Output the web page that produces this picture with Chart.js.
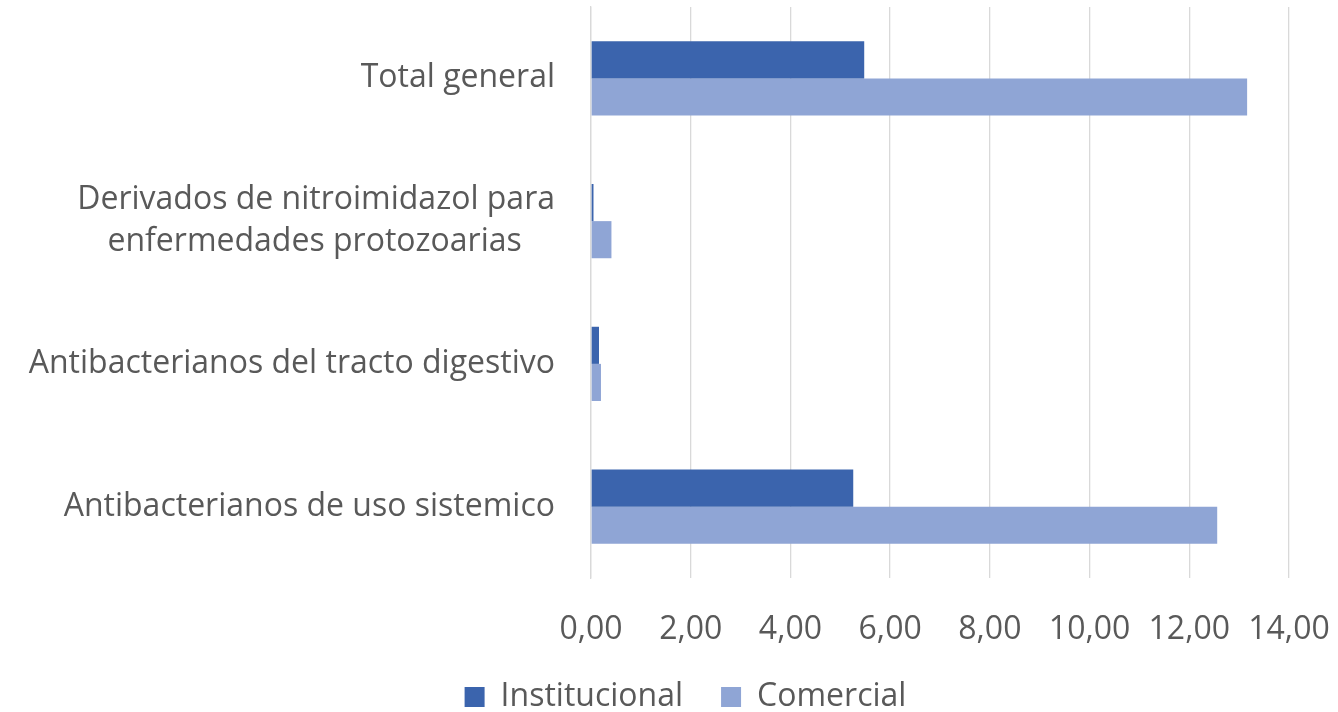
<!DOCTYPE html>
<html>
<head>
<meta charset="utf-8">
<script src="https://cdn.jsdelivr.net/npm/chart.js@4.4.0/dist/chart.umd.min.js"></script>
<style>
  html, body { margin: 0; padding: 0; background: #fff; }
  #wrap { width: 1338px; height: 712px; }
</style>
</head>
<body>
<div id="wrap"><canvas id="barChart" width="1338" height="712"></canvas></div>
<script>
// categorias y valores
const categories = [
  'Total general',
  ['Derivados de nitroimidazol para', 'enfermedades protozoarias    '],
  'Antibacterianos del tracto digestivo',
  'Antibacterianos de uso sistemico',
];
const institucional = [5.48, 0.05, 0.16, 5.26];
const comercial = [13.16, 0.41, 0.2, 12.56];
const xTicks = [0, 2, 4, 6, 8, 10, 12, 14];

const FONT = 'Open Sans';
const GREY = '#595959';

// la leyenda va centrada algo a la derecha, como en el original
const shiftLegend = {
  id: 'shiftLegend',
  afterLayout(chart) {
    if (!chart.legend) return;
    chart.legend.left += 41;
    chart.legend.right += 41;
  },
};

function renderBarChart() {
  const ctx = document.getElementById('barChart')?.getContext('2d');
  if (!ctx) return;
  window.barChart = new Chart(ctx, {
    type: 'bar',
    data: {
      labels: categories,
      datasets: [
        { label: 'Institucional', data: institucional, backgroundColor: '#3B64AD' },
        { label: 'Comercial', data: comercial, backgroundColor: '#8FA5D5' },
      ],
    },
    options: {
      indexAxis: 'y',
      responsive: false,
      animation: false,
      layout: { padding: { top: 7, right: 49, left: 0, bottom: -11 } },
      datasets: { bar: { categoryPercentage: 0.52, barPercentage: 1 } },
      scales: {
        x: {
          min: 0,
          max: 14,
          afterBuildTicks: (axis) => { axis.ticks = xTicks.map((v) => ({ value: v })); },
          afterFit: (axis) => {
            axis.height = 65;
            axis.paddingLeft = 0;
            axis.paddingRight = 0;
          },
          grid: { color: '#D9D9D9', lineWidth: 1.3, drawTicks: false },
          border: { display: false },
          ticks: {
            padding: 33,
            color: GREY,
            font: { family: FONT, size: 32 },
            callback: (v) => Number(v).toFixed(2).replace('.', ','),
          },
        },
        y: {
          afterFit: (axis) => {
            axis.width = 591;
            axis.paddingTop = 0;
            axis.paddingBottom = 0;
          },
          grid: { display: false, drawTicks: false },
          border: { color: '#D9D9D9', width: 1.3 },
          ticks: {
            padding: 36,
            color: GREY,
            font: { family: FONT, size: 32, lineHeight: 1.3 },
          },
        },
      },
      plugins: {
        legend: {
          position: 'bottom',
          labels: {
            color: GREY,
            font: { family: FONT, size: 32 },
            boxWidth: 20,
            boxHeight: 20,
            padding: 38,
          },
        },
        tooltip: { enabled: false },
      },
    },
    plugins: [shiftLegend],
  });
}
renderBarChart();
</script>
</body>
</html>
